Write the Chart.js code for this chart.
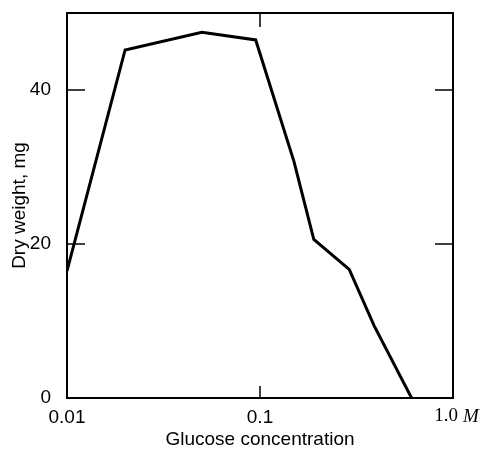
<!DOCTYPE html>
<html>
<head>
<meta charset="utf-8">
<script src="https://cdn.jsdelivr.net/npm/chart.js@4"></script>
<style>
  html, body { margin: 0; padding: 0; background: #fff; }
</style>
</head>
<body>
<canvas id="chart" width="488" height="452"></canvas>
<script>
// values
const glucose = [0.01, 0.02, 0.05, 0.095, 0.15, 0.19, 0.29, 0.39, 0.61];
const dryWeight = [16.5, 45.2, 47.5, 46.5, 30.7, 20.6, 16.7, 9.4, 0];
const xTicks = [0.01, 0.1, 1.0];
const xTickLabels = ['0.01', '0.1', '1.0'];
const xUnit = 'M';
const yTicks = [0, 20, 40];

const SANS = '"Liberation Sans", Arial, sans-serif';
const SERIF = '"Liberation Serif", "Times New Roman", serif';
const INK = '#000';

// box round the plot, inward ticks, and the "1.0 M" label
const framePlugin = {
  id: 'frame',
  afterDraw(chart) {
    const { ctx, chartArea: a, scales: { x, y } } = chart;
    ctx.save();
    ctx.strokeStyle = INK;
    ctx.lineWidth = 2;
    ctx.strokeRect(a.left, a.top, a.right - a.left, a.bottom - a.top);

    ctx.lineWidth = 1.5;
    ctx.beginPath();
    x.ticks.forEach(t => {
      const px = x.getPixelForValue(t.value);
      if (px <= a.left + 1 || px >= a.right - 1) return;
      ctx.moveTo(px, a.bottom); ctx.lineTo(px, a.bottom - 12);
      ctx.moveTo(px, a.top); ctx.lineTo(px, a.top + 14);
    });
    y.ticks.forEach(t => {
      const py = y.getPixelForValue(t.value);
      if (py >= a.bottom - 1 || py <= a.top + 1) return;
      ctx.moveTo(a.left, py); ctx.lineTo(a.left + 18, py);
      ctx.moveTo(a.right, py); ctx.lineTo(a.right - 18, py);
    });
    ctx.stroke();

    const p = x.getPixelForValue(xTicks[xTicks.length - 1]);
    ctx.fillStyle = INK;
    ctx.textBaseline = 'top';
    ctx.font = '19px ' + SERIF;
    ctx.textAlign = 'right';
    ctx.fillText(xTickLabels[xTickLabels.length - 1], p + 5, a.bottom + 9);
    ctx.font = 'italic 19px ' + SERIF;
    ctx.textAlign = 'left';
    ctx.fillText(xUnit, p + 10, a.bottom + 9);
    ctx.restore();
  }
};

new Chart(document.getElementById('chart').getContext('2d'), {
  type: 'line',
  data: {
    datasets: [{
      data: glucose.map((g, i) => ({ x: g, y: dryWeight[i] })),
      borderColor: INK,
      borderWidth: 3,
      pointRadius: 0,
      tension: 0,
      fill: false
    }]
  },
  options: {
    responsive: false,
    animation: false,
    layout: { padding: { top: 13, right: 35, left: 0, bottom: 0 } },
    plugins: { legend: { display: false }, tooltip: { enabled: false } },
    scales: {
      x: {
        type: 'logarithmic',
        min: 0.01,
        max: 1.0,
        afterBuildTicks: (scale) => { scale.ticks = xTicks.map(v => ({ value: v })); },
        afterFit: (scale) => {
          scale.height = 54;
          scale.paddingLeft = 0;
          scale.paddingRight = 0;
        },
        grid: { display: false, drawTicks: false },
        border: { display: false },
        ticks: {
          color: INK,
          padding: 8,
          maxRotation: 0,
          autoSkip: false,
          font: { family: SANS, size: 19 },
          callback: (v, i) => (i === xTicks.length - 1 ? '' : xTickLabels[i])
        },
        title: {
          display: true,
          text: 'Glucose concentration',
          color: INK,
          font: { family: SANS, size: 19 },
          padding: { top: 0, bottom: 1 }
        }
      },
      y: {
        min: 0,
        max: 50,
        afterBuildTicks: (scale) => { scale.ticks = yTicks.map(v => ({ value: v })); },
        afterFit: (scale) => {
          scale.width = 67;
          scale.paddingTop = 0;
          scale.paddingBottom = 0;
        },
        grid: { display: false, drawTicks: false },
        border: { display: false },
        ticks: {
          color: INK,
          padding: 16,
          font: { family: SANS, size: 19 }
        },
        title: {
          display: true,
          text: 'Dry weight, mg',
          color: INK,
          font: { family: SANS, size: 19 },
          padding: { top: 8, bottom: 0 }
        }
      }
    }
  },
  plugins: [framePlugin]
});
</script>
</body>
</html>
